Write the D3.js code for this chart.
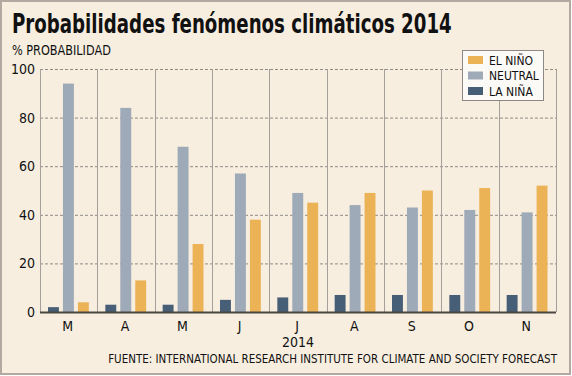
<!DOCTYPE html>
<html>
<head>
<meta charset="utf-8">
<script src="https://cdn.jsdelivr.net/npm/d3@7"></script>
<style>
  body { margin: 0; background: #fff; }
  text { font-family: "DejaVu Sans Condensed", "DejaVu Sans", sans-serif; fill: #111; }
</style>
</head>
<body>
<svg id="chart"></svg>
<script>
// data
const months = ['M', 'A', 'M', 'J', 'J', 'A', 'S', 'O', 'N'];
const series = ['LA NIÑA', 'NEUTRAL', 'EL NIÑO'];
const laNina = [2, 3, 3, 5, 6, 7, 7, 7, 7];
const neutral = [94, 84, 68, 57, 49, 44, 43, 42, 41];
const elNino = [4, 13, 28, 38, 45, 49, 50, 51, 52];
const yTicks = [0, 20, 40, 60, 80, 100];
const legendOrder = ['EL NIÑO', 'NEUTRAL', 'LA NIÑA'];

const colors = { 'EL NIÑO': '#ebb256', 'NEUTRAL': '#9eaab8', 'LA NIÑA': '#475f76' };

const width = 572;
const height = 376;
const plot = { left: 40, right: 556, top: 69, bottom: 312 };

const svg = d3.select('svg#chart').attr('width', width).attr('height', height);

// squeeze a text horizontally so it spans `w` pixels, anchored at (x, y)
function fitText(sel, x, y, w) {
  const natural = sel.node().getComputedTextLength();
  const k = Math.min(1, w / natural);
  sel.attr('x', 0).attr('y', 0)
    .attr('transform', 'translate(' + x + ',' + y + ') scale(' + k + ',1)');
}

// background + frame
svg.append('rect')
  .attr('x', 1).attr('y', 1)
  .attr('width', width - 3).attr('height', height - 3)
  .attr('fill', '#f7eee0')
  .attr('stroke', '#b3a9a1').attr('stroke-width', 2);

// title
const title = svg.append('text')
  .style('font-size', '27px').style('font-weight', 'bold')
  .text('Probabilidades fenómenos climáticos 2014');
fitText(title, 12, 33, 440);

const unit = svg.append('text')
  .style('font-size', '13.5px')
  .text('% PROBABILIDAD');
fitText(unit, 12, 55, 99);

// scales
const x = d3.scaleBand().domain(d3.range(months.length)).range([plot.left, plot.right]).padding(0);
const inner = d3.scaleBand().domain(series)
  .range([8, x.bandwidth() - 8.5])
  .paddingInner(0.27).paddingOuter(0);
const y = d3.scaleLinear().domain([0, 100]).range([plot.bottom, plot.top]);

// dashed gridlines
svg.append('g').selectAll('line')
  .data(yTicks.filter(t => t > 0))
  .enter().append('line')
  .attr('x1', plot.left).attr('x2', plot.right)
  .attr('y1', d => y(d) + 0.5).attr('y2', d => y(d) + 0.5)
  .attr('stroke', '#8f8a86').attr('stroke-width', 1)
  .attr('stroke-dasharray', '3,2');

// vertical separators
svg.append('g').selectAll('line')
  .data(d3.range(months.length + 1))
  .enter().append('line')
  .attr('x1', d => Math.round(plot.left + d * x.step()) + 0.5)
  .attr('x2', d => Math.round(plot.left + d * x.step()) + 0.5)
  .attr('y1', plot.top).attr('y2', plot.bottom)
  .attr('stroke', '#a59f99').attr('stroke-width', 1);

// bars
const rows = months.map((m, i) => ({
  i: i,
  vals: [
    { s: 'LA NIÑA', v: laNina[i] },
    { s: 'NEUTRAL', v: neutral[i] },
    { s: 'EL NIÑO', v: elNino[i] }
  ]
}));

const groups = svg.append('g').selectAll('g')
  .data(rows)
  .enter().append('g')
  .attr('transform', d => 'translate(' + x(d.i) + ',0)');

groups.selectAll('rect')
  .data(d => d.vals)
  .enter().append('rect')
  .attr('x', d => inner(d.s))
  .attr('width', inner.bandwidth())
  .attr('y', d => y(d.v))
  .attr('height', d => y(0) - y(d.v))
  .attr('fill', d => colors[d.s]);

// baseline
svg.append('line')
  .attr('x1', plot.left).attr('x2', plot.right)
  .attr('y1', plot.bottom + 0.5).attr('y2', plot.bottom + 0.5)
  .attr('stroke', '#4a4541').attr('stroke-width', 2);

// y labels
svg.append('g').selectAll('text')
  .data(yTicks)
  .enter().append('text')
  .attr('x', 35).attr('y', d => y(d) + 5)
  .attr('text-anchor', 'end')
  .style('font-size', '14px')
  .text(d => d);

// x labels
svg.append('g').selectAll('text')
  .data(months)
  .enter().append('text')
  .attr('x', (d, i) => x(i) + x.bandwidth() / 2 - 1)
  .attr('y', 331)
  .attr('text-anchor', 'middle')
  .style('font-size', '14px')
  .text(d => d);

svg.append('text')
  .attr('x', (plot.left + plot.right) / 2).attr('y', 347)
  .attr('text-anchor', 'middle')
  .style('font-size', '14px')
  .text('2014');

const source = svg.append('text')
  .attr('text-anchor', 'end')
  .style('font-size', '12.5px')
  .text('FUENTE: INTERNATIONAL RESEARCH INSTITUTE FOR CLIMATE AND SOCIETY FORECAST');
fitText(source, 557, 363, 449);

// legend
const legend = svg.append('g').attr('transform', 'translate(462,50)');
legend.append('rect')
  .attr('x', 0.5).attr('y', 0.5)
  .attr('width', 81).attr('height', 50)
  .attr('fill', '#fcfaf6')
  .attr('stroke', '#8d8884');

const items = legend.selectAll('g.item')
  .data(legendOrder)
  .enter().append('g')
  .attr('class', 'item')
  .attr('transform', (d, i) => 'translate(6,' + (6 + i * 15.5) + ')');

items.append('rect')
  .attr('width', 15).attr('height', 8)
  .attr('fill', d => colors[d]);

items.append('text')
  .attr('x', 21).attr('y', 8.5)
  .style('font-size', '12px')
  .text(d => d);
</script>
</body>
</html>
